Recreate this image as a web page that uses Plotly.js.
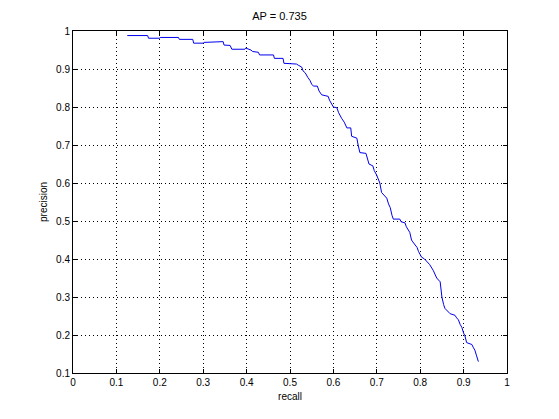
<!DOCTYPE html>
<html>
<head>
<meta charset="utf-8">
<script src="https://cdn.plot.ly/plotly-3.0.1.min.js"></script>
<style>html,body{margin:0;padding:0;background:#fff;}</style>
</head>
<body>
<div id="chart" style="width:559px;height:419px;"></div>
<script>
const recall = [0.125,0.172,0.174,0.200,0.201,0.243,0.245,0.276,0.278,0.300,0.302,0.331,0.346,0.348,0.362,0.366,0.396,0.398,0.410,0.414,0.427,0.430,0.462,0.464,0.484,0.486,0.515,0.519,0.527,0.530,0.535,0.541,0.546,0.550,0.554,0.563,0.567,0.573,0.588,0.591,0.596,0.600,0.608,0.612,0.619,0.625,0.631,0.640,0.642,0.654,0.657,0.661,0.675,0.678,0.682,0.691,0.694,0.700,0.707,0.711,0.723,0.727,0.731,0.735,0.738,0.753,0.756,0.765,0.768,0.776,0.780,0.783,0.793,0.796,0.803,0.810,0.818,0.822,0.830,0.834,0.838,0.846,0.848,0.850,0.854,0.857,0.869,0.880,0.884,0.888,0.892,0.896,0.900,0.903,0.907,0.919,0.922,0.926,0.930,0.934];
const precision = [0.988,0.988,0.981,0.981,0.983,0.983,0.978,0.978,0.968,0.968,0.970,0.972,0.972,0.963,0.962,0.952,0.952,0.955,0.950,0.946,0.944,0.937,0.937,0.928,0.928,0.915,0.913,0.910,0.905,0.895,0.890,0.878,0.870,0.860,0.855,0.855,0.842,0.832,0.828,0.818,0.806,0.800,0.798,0.785,0.770,0.760,0.745,0.745,0.723,0.718,0.700,0.680,0.678,0.665,0.650,0.645,0.633,0.620,0.600,0.575,0.560,0.545,0.535,0.515,0.505,0.505,0.498,0.495,0.485,0.470,0.450,0.445,0.430,0.420,0.405,0.400,0.390,0.385,0.370,0.358,0.350,0.340,0.310,0.300,0.280,0.270,0.256,0.252,0.245,0.240,0.228,0.220,0.205,0.198,0.180,0.175,0.168,0.160,0.145,0.130];
const xTicks = [0,0.1,0.2,0.3,0.4,0.5,0.6,0.7,0.8,0.9,1];
const xTickText = ["0","0.1","0.2","0.3","0.4","0.5","0.6","0.7","0.8","0.9","1"];
const yTicks = [0.1,0.2,0.3,0.4,0.5,0.6,0.7,0.8,0.9,1];
const yTickText = ["0.1","0.2","0.3","0.4","0.5","0.6","0.7","0.8","0.9","1"];
const titleText = "AP = 0.735";

const font = {family: "Liberation Sans, Arial, sans-serif", size: 10, color: "#000"};
const axisCommon = {
  showline: true, linecolor: "#000", linewidth: 1, mirror: "ticks",
  ticks: "inside", ticklen: 4, tickcolor: "#000", tickwidth: 1,
  showgrid: true, gridcolor: "#000", griddash: "1px,3px", gridwidth: 1,
  zeroline: false, tickfont: font, tickmode: "array"
};
Plotly.newPlot("chart", [{
  x: recall, y: precision, type: "scatter", mode: "lines",
  line: {color: "#0000ee", width: 1}, hoverinfo: "skip"
}], {
  width: 559, height: 419,
  margin: {l: 73, r: 52, t: 31, b: 46, pad: 0},
  paper_bgcolor: "#fff", plot_bgcolor: "#fff",
  showlegend: false,
  title: {text: titleText, font: {family: font.family, size: 11, color: "#000"}, x: 0.5, xanchor: "center", y: 0.962, yanchor: "middle"},
  xaxis: Object.assign({}, axisCommon, {range: [0, 1], tickvals: xTicks, ticktext: xTickText,
    title: {text: "recall", font: font, standoff: 5}}),
  yaxis: Object.assign({}, axisCommon, {range: [0.1, 1], tickvals: yTicks, ticktext: yTickText,
    title: {text: "precision", font: font, standoff: 6}})
}, {displayModeBar: false, staticPlot: true});
</script>
</body>
</html>
